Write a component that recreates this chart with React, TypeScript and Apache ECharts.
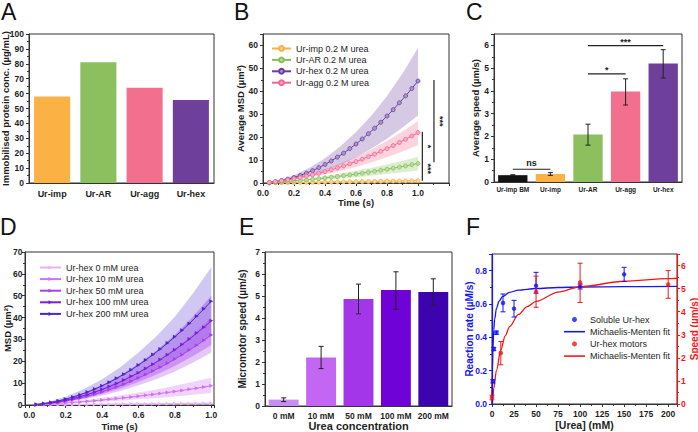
import React, { useEffect, useRef } from 'react';
import * as echarts from 'echarts';

const FONT = 'Liberation Sans, Arial, sans-serif';
const INK = '#1e1e1e';

// ---------- Panel A ----------
const aCategories = ['Ur-imp', 'Ur-AR', 'Ur-agg', 'Ur-hex'];
const aValues = [58.0, 81.0, 64.0, 55.7];
const aColors = ['#fbb244', '#8cbf5e', '#f2708e', '#6e409b'];

// ---------- Panel B ----------
const msdTimes = [0.04, 0.08, 0.12, 0.16, 0.2, 0.24, 0.28, 0.32, 0.36, 0.4, 0.44, 0.48, 0.52, 0.56, 0.6, 0.64, 0.68, 0.72, 0.76, 0.8, 0.84, 0.88, 0.92, 0.96, 1.0];
const bImp = [0.05, 0.09, 0.13, 0.17, 0.21, 0.25, 0.29, 0.33, 0.37, 0.41, 0.45, 0.49, 0.53, 0.57, 0.61, 0.65, 0.69, 0.73, 0.77, 0.81, 0.85, 0.89, 0.93, 0.97, 1.02];
const bAR = [0.15, 0.31, 0.49, 0.69, 0.9, 1.13, 1.37, 1.63, 1.91, 2.2, 2.51, 2.83, 3.17, 3.53, 3.9, 4.29, 4.69, 5.11, 5.55, 6.0, 6.47, 6.95, 7.45, 7.97, 8.5];
const bHex = [0.2, 0.6, 1.1, 1.7, 2.4, 3.3, 4.3, 5.4, 6.7, 8.1, 9.6, 11.3, 13.0, 15.0, 17.0, 19.2, 21.5, 23.9, 26.5, 29.2, 32.0, 35.0, 38.0, 41.2, 44.5];
const bAgg = [0.27, 0.58, 0.95, 1.37, 1.84, 2.36, 2.93, 3.56, 4.23, 4.96, 5.74, 6.57, 7.45, 8.38, 9.36, 10.4, 11.5, 12.6, 13.8, 15.0, 16.3, 17.7, 19.1, 20.5, 22.0];
const bandTimes = [0.04, 0.1, 0.2, 0.3, 0.4, 0.5, 0.6, 0.7, 0.8, 0.9, 1.0];
const bImpLow = [0.03, 0.06, 0.13, 0.2, 0.27, 0.34, 0.41, 0.48, 0.55, 0.62, 0.7];
const bImpHigh = [0.06, 0.13, 0.27, 0.42, 0.56, 0.7, 0.84, 0.98, 1.12, 1.26, 1.4];
const bARLow = [0.1, 0.3, 0.6, 1.0, 1.45, 1.95, 2.5, 3.2, 3.9, 4.7, 5.5];
const bARHigh = [0.2, 0.55, 1.25, 2.1, 3.0, 4.1, 5.3, 6.6, 8.1, 9.7, 11.5];
const bHexLow = [0.1, 0.6, 1.6, 3.1, 5.3, 7.9, 11.2, 15.0, 19.3, 24.2, 29.5];
const bHexHigh = [0.3, 1.2, 3.4, 6.6, 10.8, 16.0, 22.3, 29.5, 38.0, 47.8, 59.0];
const bAggLow = [0.2, 0.6, 1.4, 2.4, 3.7, 5.2, 7.0, 9.0, 11.2, 13.7, 16.5];
const bAggHigh = [0.35, 0.95, 2.3, 4.0, 6.1, 8.6, 11.5, 14.7, 18.4, 22.5, 27.0];
const bYTicks = [0, 10, 20, 30, 40, 50, 60];
const bSigLineX = [1.028, 1.103];
const bSigLineFrom = [1.0, 9.0];
const bSigLineTo = [22.4, 44.9];
const bStarX = [1.067, 1.067, 1.14];
const bStarY = [15.9, 6.2, 26.9];
const bStarText = ['*', '***', '***'];

// ---------- Panel C ----------
const cCategories = ['Ur-imp BM', 'Ur-imp', 'Ur-AR', 'Ur-agg', 'Ur-hex'];
const cValues = [0.3, 0.35, 2.09, 3.97, 5.2];
const cErrLow = [0.28, 0.29, 1.62, 3.38, 4.57];
const cErrHigh = [0.32, 0.41, 2.54, 4.53, 5.81];
const cColors = ['#121212', '#fbb244', '#8cbf5e', '#f2708e', '#6e409b'];
const cSigFrom = [0, 2, 2];
const cSigTo = [1, 3, 4];
const cSigY = [0.56, 4.75, 5.99];
const cSigText = ['ns', '*', '***'];

// ---------- Panel D ----------
const dNames = ['Ur-hex 0 mM urea', 'Ur-hex 10 mM urea', 'Ur-hex 50 mM urea', 'Ur-hex 100 mM urea', 'Ur-hex 200 mM urea'];
const dColors = ['#e9b2f7', '#d071f5', '#ac3eec', '#7d1ddc', '#4b26d0'];
const d0mM = [0.03, 0.06, 0.1, 0.13, 0.16, 0.19, 0.22, 0.26, 0.29, 0.32, 0.35, 0.38, 0.42, 0.45, 0.48, 0.51, 0.54, 0.58, 0.61, 0.64, 0.67, 0.7, 0.74, 0.77, 0.8];
const d10mM = [0.15, 0.32, 0.51, 0.71, 0.93, 1.16, 1.42, 1.68, 1.97, 2.27, 2.59, 2.93, 3.28, 3.65, 4.03, 4.43, 4.85, 5.29, 5.74, 6.21, 6.69, 7.19, 7.71, 8.25, 8.8];
const d50mM = [0.19, 0.46, 0.83, 1.29, 1.84, 2.48, 3.21, 4.04, 4.95, 5.96, 7.06, 8.25, 9.53, 10.9, 12.4, 13.9, 15.6, 17.3, 19.1, 21.0, 23.0, 25.2, 27.3, 29.6, 32.0];
const d100mM = [0.22, 0.54, 0.98, 1.52, 2.18, 2.95, 3.82, 4.81, 5.91, 7.12, 8.44, 9.87, 11.4, 13.1, 14.8, 16.7, 18.7, 20.8, 23.0, 25.3, 27.7, 30.2, 32.9, 35.6, 38.5];
const d200mM = [0.27, 0.67, 1.21, 1.89, 2.7, 3.65, 4.73, 5.95, 7.31, 8.8, 10.4, 12.2, 14.1, 16.1, 18.3, 20.6, 23.1, 25.6, 28.4, 31.2, 34.2, 37.3, 40.6, 44.0, 47.5];
const d0Low = [0.01, 0.03, 0.06, 0.09, 0.12, 0.15, 0.18, 0.21, 0.24, 0.27, 0.3];
const d0High = [0.05, 0.13, 0.26, 0.39, 0.52, 0.65, 0.78, 0.91, 1.04, 1.17, 1.3];
const d10Low = [0.1, 0.3, 0.6, 1.0, 1.5, 2.0, 2.6, 3.2, 3.9, 4.7, 5.5];
const d10High = [0.2, 0.6, 1.35, 2.2, 3.2, 4.4, 5.7, 7.1, 8.8, 10.6, 12.5];
const d50Low = [0.12, 0.5, 1.3, 2.6, 4.3, 6.4, 9.0, 11.9, 15.3, 19.4, 24.0];
const d50High = [0.25, 0.9, 2.4, 4.6, 7.5, 11.0, 15.2, 20.1, 25.7, 32.4, 40.0];
const d100Low = [0.13, 0.6, 1.5, 3.0, 5.0, 7.5, 10.5, 14.0, 17.9, 22.4, 27.5];
const d100High = [0.3, 1.1, 2.9, 5.6, 9.2, 13.6, 18.9, 25.0, 32.1, 40.5, 50.0];
const d200Low = [0.15, 0.7, 1.8, 3.6, 5.9, 8.8, 12.3, 16.3, 20.9, 26.1, 32.0];
const d200High = [0.4, 1.4, 3.8, 7.3, 11.8, 17.3, 24.0, 31.6, 40.4, 51.1, 63.0];

// ---------- Panel E ----------
const eCategories = ['0 mM', '10 mM', '50 mM', '100 mM', '200 mM'];
const eValues = [0.29, 2.21, 4.86, 5.27, 5.18];
const eErrLow = [0.2, 1.7, 4.19, 4.4, 4.58];
const eErrHigh = [0.37, 2.71, 5.54, 6.1, 5.78];
const eColors = ['#c98cf3', '#c366f4', '#a336e8', '#6f02d7', '#3c03ae'];

// ---------- Panel F ----------
const fSolX = [1, 2, 5, 12.5, 25, 50, 100, 150];
const fSolY = [0.136, 0.33, 0.428, 0.606, 0.572, 0.71, 0.705, 0.778];
const fSolLow = [0.126, 0.32, 0.418, 0.553, 0.522, 0.665, 0.69, 0.735];
const fSolHigh = [0.146, 0.34, 0.438, 0.66, 0.622, 0.79, 0.72, 0.82];
const fMotX = [0, 10, 50, 100, 200];
const fMotY = [0.28, 2.21, 4.86, 5.27, 5.18];
const fMotLow = [0.18, 1.7, 4.19, 4.4, 4.58];
const fMotHigh = [0.38, 2.71, 5.54, 6.1, 5.78];
const fSolFitX = [0, 0.5, 1, 2, 3, 5, 8, 12, 20, 30, 50, 75, 100, 150, 210];
const fSolFitY = [0, 0.209, 0.323, 0.444, 0.507, 0.573, 0.617, 0.645, 0.67, 0.683, 0.693, 0.699, 0.702, 0.704, 0.706];
const fMotFitX = [0, 1, 2, 5, 10, 15, 20, 30, 40, 50, 75, 100, 150, 200, 210];
const fMotFitY = [0, 0.35, 0.68, 1.45, 2.35, 2.95, 3.35, 3.88, 4.22, 4.45, 4.85, 5.08, 5.32, 5.43, 5.45];
const BLUE = '#1515f5';
const RED = '#f51515';

const panelLetters = ['A', 'B', 'C', 'D', 'E', 'F'];

// yAxis indices
const YA = 0, YC = 1, YD = 2, YE = 3, YFL = 4, YFR = 5, YB = 6;

// panel B plot box (layout)
const B_LEFT = 263, B_TOP = 34, B_W = 186, B_H = 149, B_YMAX = 65;

// ---------- helpers ----------
const tickLabel = { fontFamily: FONT, fontWeight: 'bold', fontSize: 8.5, color: INK, margin: 5, hideOverlap: false, showMinLabel: true, showMaxLabel: true };
const nameText = { fontFamily: FONT, fontWeight: 'bold', fontSize: 9.5, color: INK };
const lineBlack = { show: true, onZero: false, lineStyle: { color: '#333', width: 1 } };

function stepFormatter(min: number, interval: number, decimals: number, upTo: number) {
  return (v: number) => {
    const k = (v - min) / interval;
    return Math.abs(k - Math.round(k)) < 1e-6 && v <= upTo + 1e-9 ? v.toFixed(decimals) : '';
  };
}

function valAxis(gridIndex: number, min: number, max: number, interval: number, decimals: number, extra: any = {}) {
  return {
    type: 'value', gridIndex, min, max, interval,
    splitLine: { show: false },
    axisLine: lineBlack,
    axisTick: { show: true, length: 3, lineStyle: { color: '#333' } },
    minorTick: { show: true, splitNumber: 2, length: 2, lineStyle: { color: '#333' } },
    axisLabel: { ...tickLabel, formatter: stepFormatter(min, interval, decimals, max) },
    nameLocation: 'middle',
    nameMoveOverlap: false,
    nameTextStyle: nameText,
    ...extra,
  };
}

function catAxis(gridIndex: number, data: string[], fontSize: number, margin: number, extra: any = {}) {
  return {
    type: 'category', gridIndex, data,
    axisTick: { show: false },
    axisLine: lineBlack,
    axisLabel: { ...tickLabel, fontSize, margin, interval: 0 },
    nameLocation: 'middle',
    nameMoveOverlap: false,
    nameTextStyle: nameText,
    ...extra,
  };
}

function bandSeries(xi: number, yi: number, times: number[], lo: number[], hi: number[], color: string, opacity: number) {
  return {
    type: 'custom', xAxisIndex: xi, yAxisIndex: yi, silent: true, z: 1,
    data: times.map((t, i) => [t, lo[i], hi[i]]),
    encode: { x: 0, y: [1, 2] },
    renderItem: (params: any, api: any) => {
      if (params.dataIndex !== 0) return null;
      const top = times.map((t, i) => api.coord([t, hi[i]]));
      const bot = times.map((t, i) => api.coord([t, lo[i]])).reverse();
      return { type: 'polygon', shape: { points: top.concat(bot) }, style: { fill: color, opacity } };
    },
  };
}

function errorBars(xi: number, yi: number, xs: number[], lo: number[], hi: number[], color: string, cap: number) {
  return {
    type: 'custom', xAxisIndex: xi, yAxisIndex: yi, silent: true, z: 4,
    data: xs.map((x, i) => [x, lo[i], hi[i]]),
    encode: { x: 0, y: [1, 2] },
    renderItem: (params: any, api: any) => {
      const x = api.value(0);
      const p1 = api.coord([x, api.value(1)]);
      const p2 = api.coord([x, api.value(2)]);
      const st = { stroke: color, lineWidth: 1 };
      return {
        type: 'group',
        children: [
          { type: 'line', shape: { x1: p1[0], y1: p1[1], x2: p2[0], y2: p2[1] }, style: st },
          { type: 'line', shape: { x1: p1[0] - cap, y1: p1[1], x2: p1[0] + cap, y2: p1[1] }, style: st },
          { type: 'line', shape: { x1: p2[0] - cap, y1: p2[1], x2: p2[0] + cap, y2: p2[1] }, style: st },
        ],
      };
    },
  };
}

function lighten(hex: string, f: number) {
  const n = parseInt(hex.slice(1), 16);
  const r = (n >> 16) & 255, g = (n >> 8) & 255, b = n & 255;
  const m = (c: number) => Math.round(c + (255 - c) * f);
  return `rgb(${m(r)},${m(g)},${m(b)})`;
}

function letterGraphics() {
  const pos = [[1, 0], [234, 0], [466, 0], [0, 215], [239, 215], [466, 215]];
  return panelLetters.map((t, i) => ({
    type: 'text', id: 'letter' + i, left: pos[i][0], top: pos[i][1],
    style: { text: t, font: `23px ${FONT}`, fill: '#111' },
  }));
}

function bTickGraphics(xPix: number, yPix: (v: number) => number) {
  return bYTicks.map((v, i) => ({
    type: 'text', id: 'bY' + i, right: 698 - (xPix - 5), top: yPix(v) - 5, z: 100, silent: true,
    style: { text: String(v), font: `bold 8.5px ${FONT}`, fill: INK },
  }));
}

function buildOption() {
  const series: any[] = [];

  // A
  series.push({
    type: 'bar', xAxisIndex: 0, yAxisIndex: YA, barCategoryGap: '22%',
    data: aValues.map((v, i) => ({ value: v, itemStyle: { color: aColors[i] } })),
  });

  // B
  const bSets = [
    { name: 'Ur-imp 0.2 M urea', d: bImp, lo: bImpLow, hi: bImpHigh, c: '#f9b040' },
    { name: 'Ur-AR 0.2 M urea', d: bAR, lo: bARLow, hi: bARHigh, c: '#84bf57' },
    { name: 'Ur-hex 0.2 M urea', d: bHex, lo: bHexLow, hi: bHexHigh, c: '#6a3d9f' },
    { name: 'Ur-agg 0.2 M urea', d: bAgg, lo: bAggLow, hi: bAggHigh, c: '#f2668f' },
  ];
  bSets.forEach((s) => series.push(bandSeries(1, YB, bandTimes, s.lo, s.hi, s.c, 0.28)));
  bSets.forEach((s) =>
    series.push({
      type: 'line', name: s.name, xAxisIndex: 1, yAxisIndex: YB, z: 3,
      data: msdTimes.map((t, i) => [t, s.d[i]]),
      symbol: 'circle', symbolSize: 4, color: s.c,
      lineStyle: { width: 1, color: s.c },
      itemStyle: { color: lighten(s.c, 0.45), borderColor: s.c, borderWidth: 0.8 },
    })
  );
  series.push({
    type: 'custom', xAxisIndex: 1, yAxisIndex: YB, silent: true, z: 5,
    data: bSigLineX.map((x, i) => [x, bSigLineFrom[i], bSigLineTo[i]]),
    encode: { x: 0, y: [1, 2] },
    renderItem: (params: any, api: any) => {
      const a = api.coord([api.value(0), api.value(1)]);
      const b = api.coord([api.value(0), api.value(2)]);
      return { type: 'line', shape: { x1: a[0], y1: a[1], x2: b[0], y2: b[1] }, style: { stroke: '#222', lineWidth: 1.2 } };
    },
  });
  series.push({
    type: 'custom', xAxisIndex: 1, yAxisIndex: YB, silent: true, z: 5,
    data: bStarX.map((x, i) => [x, bStarY[i]]),
    encode: { x: 0, y: 1 },
    renderItem: (params: any, api: any) => {
      const p = api.coord([api.value(0), api.value(1)]);
      return {
        type: 'text', x: p[0], y: p[1], rotation: -Math.PI / 2,
        style: { text: bStarText[params.dataIndex], fill: '#222', font: `bold 9px ${FONT}`, align: 'center', verticalAlign: 'middle' },
      };
    },
  });

  // C
  series.push({
    type: 'bar', xAxisIndex: 2, yAxisIndex: YC, barCategoryGap: '22%',
    data: cValues.map((v, i) => ({ value: v, itemStyle: { color: cColors[i] } })),
  });
  series.push(errorBars(2, YC, cValues.map((_, i) => i), cErrLow, cErrHigh, '#222', 2.5));
  series.push({
    type: 'custom', xAxisIndex: 2, yAxisIndex: YC, silent: true, z: 5,
    data: cSigFrom.map((f, i) => [f, cSigTo[i], cSigY[i]]),
    encode: { x: [0, 1], y: 2 },
    renderItem: (params: any, api: any) => {
      const a = api.coord([api.value(0), api.value(2)]);
      const b = api.coord([api.value(1), api.value(2)]);
      const txt = cSigText[params.dataIndex];
      return {
        type: 'group',
        children: [
          { type: 'line', shape: { x1: a[0], y1: a[1], x2: b[0], y2: b[1] }, style: { stroke: '#222', lineWidth: 1.2 } },
          {
            type: 'text', x: (a[0] + b[0]) / 2, y: a[1] - (txt === 'ns' ? 1.5 : -1),
            style: { text: txt, fill: '#222', font: `bold 9px ${FONT}`, align: 'center', verticalAlign: 'bottom' },
          },
        ],
      };
    },
  });

  // D
  const dSets = [
    { d: d0mM, lo: d0Low, hi: d0High },
    { d: d10mM, lo: d10Low, hi: d10High },
    { d: d50mM, lo: d50Low, hi: d50High },
    { d: d100mM, lo: d100Low, hi: d100High },
    { d: d200mM, lo: d200Low, hi: d200High },
  ];
  [4, 3, 2, 1, 0].forEach((k) => series.push(bandSeries(3, YD, bandTimes, dSets[k].lo, dSets[k].hi, dColors[k], k === 4 ? 0.26 : 0.3)));
  dSets.forEach((s, k) =>
    series.push({
      type: 'line', name: dNames[k], xAxisIndex: 3, yAxisIndex: YD, z: 3,
      data: msdTimes.map((t, i) => [t, s.d[i]]),
      symbol: 'triangle', symbolRotate: -90, symbolSize: 4, color: dColors[k],
      lineStyle: { width: 1, color: dColors[k] }, itemStyle: { color: dColors[k] },
    })
  );

  // E
  series.push({
    type: 'bar', xAxisIndex: 4, yAxisIndex: YE, barCategoryGap: '20%',
    data: eValues.map((v, i) => ({ value: v, itemStyle: { color: eColors[i] } })),
  });
  series.push(errorBars(4, YE, eValues.map((_, i) => i), eErrLow, eErrHigh, '#222', 2.5));

  // F
  series.push({
    type: 'line', name: 'Michaelis-Menten fit', xAxisIndex: 5, yAxisIndex: YFL, z: 2,
    data: fSolFitX.map((x, i) => [x, fSolFitY[i]]), smooth: 0.3, smoothMonotone: 'x',
    showSymbol: false, symbol: 'none', color: BLUE, lineStyle: { width: 1.3, color: BLUE },
  });
  series.push({
    type: 'line', name: 'Michaelis-Menten fit ', xAxisIndex: 5, yAxisIndex: YFR, z: 2,
    data: fMotFitX.map((x, i) => [x, fMotFitY[i]]), smooth: 0.3, smoothMonotone: 'x',
    showSymbol: false, symbol: 'none', color: RED, lineStyle: { width: 1.3, color: RED },
  });
  series.push(errorBars(5, YFL, fSolX, fSolLow, fSolHigh, BLUE, 2.5));
  series.push(errorBars(5, YFR, fMotX, fMotLow, fMotHigh, RED, 2.5));
  series.push({
    type: 'scatter', name: 'Soluble Ur-hex', xAxisIndex: 5, yAxisIndex: YFL, z: 5,
    data: fSolX.map((x, i) => [x, fSolY[i]]), symbolSize: 4.5, color: BLUE, itemStyle: { color: BLUE },
  });
  series.push({
    type: 'scatter', name: 'Ur-hex motors', xAxisIndex: 5, yAxisIndex: YFR, z: 5,
    data: fMotX.map((x, i) => [x, fMotY[i]]), symbolSize: 4.5, color: RED, itemStyle: { color: RED },
  });

  const gridBase = { show: true, borderColor: '#333', borderWidth: 1, backgroundColor: 'transparent', containLabel: false, outerBoundsMode: 'none' };
  const lineIcon = 'path://M0,0L40,0L40,3L0,3Z';

  const yAxes: any[] = [];
  yAxes[YA] = { ...valAxis(0, 0, 100, 10, 0, { name: 'Immobilised protein conc. (µg/mL)', nameGap: 19 }), position: 'left' };
  yAxes[YC] = { ...valAxis(2, 0, 6.5, 1, 0, { name: 'Average speed (µm/s)', nameGap: 14 }), position: 'left' };
  yAxes[YD] = { ...valAxis(3, 0, 70, 10, 0, { name: 'MSD (µm²)', nameGap: 12.5, axisLabel: { ...tickLabel, margin: 2.5, formatter: stepFormatter(0, 10, 0, 70) } }), position: 'left' };
  yAxes[YE] = { ...valAxis(4, 0, 7, 1, 0, { name: 'Micromotor speed (µm/s)', nameGap: 17.5, nameTextStyle: { ...nameText, fontSize: 10 } }), position: 'left' };
  yAxes[YFL] = {
    ...valAxis(5, 0, 0.9, 0.2, 1, { name: 'Reaction rate (µM/s)', nameGap: 18, nameTextStyle: { ...nameText, fontSize: 10, color: BLUE } }),
    position: 'left', z: 5,
    axisLine: { show: true, onZero: false, lineStyle: { color: BLUE, width: 1.2 } },
    axisTick: { show: true, length: 3, lineStyle: { color: BLUE } },
    minorTick: { show: true, splitNumber: 2, length: 2, lineStyle: { color: BLUE } },
    axisLabel: { ...tickLabel, color: BLUE, formatter: stepFormatter(0, 0.2, 1, 0.85) },
  };
  yAxes[YFR] = {
    ...valAxis(5, 0, 6.5, 1, 0, { name: 'Speed (µm/s)', nameGap: 12, nameRotate: 90, nameTextStyle: { ...nameText, fontSize: 10, color: RED } }),
    position: 'right', z: 5,
    axisLine: { show: true, onZero: false, lineStyle: { color: RED, width: 1.2 } },
    axisTick: { show: true, length: 3, lineStyle: { color: RED } },
    minorTick: { show: true, splitNumber: 2, length: 2, lineStyle: { color: RED } },
    axisLabel: { ...tickLabel, color: RED, margin: 4, formatter: stepFormatter(0, 1, 0, 6.2) },
  };
  yAxes[YB] = {
    ...valAxis(1, 0, B_YMAX, 10, 0, { name: 'Average MSD (µm²)', nameGap: 17.5 }),
    position: 'left',
    axisLabel: { show: false },
  };

  // geometric fallback for B tick label placement
  const fallbackY = (v: number) => B_TOP + B_H * (1 - v / B_YMAX);

  return {
    animation: false,
    textStyle: { fontFamily: FONT },
    grid: [
      { ...gridBase, left: 29, top: 34, width: 185, height: 149 },
      { ...gridBase, left: B_LEFT, top: B_TOP, width: B_W, height: B_H },
      { ...gridBase, left: 494, top: 34, width: 188, height: 148 },
      { ...gridBase, left: 25, top: 252, width: 189, height: 153 },
      { ...gridBase, left: 265, top: 252, width: 187, height: 154 },
      { ...gridBase, left: 492, top: 254, width: 185, height: 150 },
    ],
    xAxis: [
      catAxis(0, aCategories, 9, 6),
      valAxis(1, 0, 1.2, 0.2, 1, { name: 'Time (s)', nameGap: 14, axisLabel: { ...tickLabel, formatter: stepFormatter(0, 0.2, 1, 1.0) } }),
      catAxis(2, cCategories, 6.5, 4),
      {
        ...valAxis(3, -0.024, 1.015, 0.2, 1, { name: 'Time (s)', nameGap: 16 }),
        interval: undefined, minInterval: 0.2, maxInterval: 0.2, splitNumber: 5,
        axisLabel: { ...tickLabel, formatter: (v: number) => (v < -0.001 || v > 1.001 ? '' : v.toFixed(1)) },
      },
      catAxis(4, eCategories, 8.5, 5, { name: 'Urea concentration', nameGap: 14, nameTextStyle: { ...nameText, fontSize: 11 } }),
      valAxis(5, 0, 210, 25, 0, { name: '[Urea] (mM)', nameGap: 15, nameTextStyle: { ...nameText, fontSize: 10.5 }, axisLabel: { ...tickLabel, formatter: stepFormatter(0, 25, 0, 200) } }),
    ],
    yAxis: yAxes,
    legend: [
      {
        data: bSets.map((s) => s.name), left: 271, top: 44, orient: 'vertical', padding: 0,
        itemWidth: 19, itemHeight: 6, itemGap: 2.4, selectedMode: false,
        textStyle: { fontFamily: FONT, fontSize: 9, color: INK },
      },
      {
        data: dNames, left: 39, top: 263, orient: 'vertical', padding: 0,
        itemWidth: 21, itemHeight: 5, itemGap: 2.6, selectedMode: false,
        textStyle: { fontFamily: FONT, fontSize: 9, color: INK },
      },
      {
        data: [
          { name: 'Soluble Ur-hex', icon: 'circle' },
          { name: 'Michaelis-Menten fit', icon: lineIcon },
          { name: 'Ur-hex motors', icon: 'circle' },
          { name: 'Michaelis-Menten fit ', icon: lineIcon },
        ],
        formatter: (n: string) => n.trim(),
        left: 564, top: 315, orient: 'vertical', padding: 0,
        itemWidth: 21, itemHeight: 5, itemGap: 3.2, selectedMode: false,
        textStyle: { fontFamily: FONT, fontSize: 9, color: INK },
      },
    ],
    graphic: [...letterGraphics(), ...bTickGraphics(B_LEFT, fallbackY)],
    series,
  };
}

export default function App() {
  const ref = useRef<HTMLDivElement>(null);
  useEffect(() => {
    const chart = echarts.init(ref.current!, null, { renderer: 'svg' });
    chart.setOption(buildOption() as any);
    try {
      const x0 = Number(chart.convertToPixel({ xAxisIndex: 1 } as any, 0));
      const yOf = (v: number) => Number(chart.convertToPixel({ yAxisIndex: YB } as any, v));
      if (Number.isFinite(x0) && bYTicks.every((v) => Number.isFinite(yOf(v)))) {
        chart.setOption({ graphic: [...letterGraphics(), ...bTickGraphics(x0, yOf)] } as any);
      }
    } catch (e) {
      // keep layout-based placement
    }
    return () => chart.dispose();
  }, []);
  return <div ref={ref} style={{ position: 'fixed', left: 0, top: 0, width: 698, height: 432, background: '#fff' }} />;
}
